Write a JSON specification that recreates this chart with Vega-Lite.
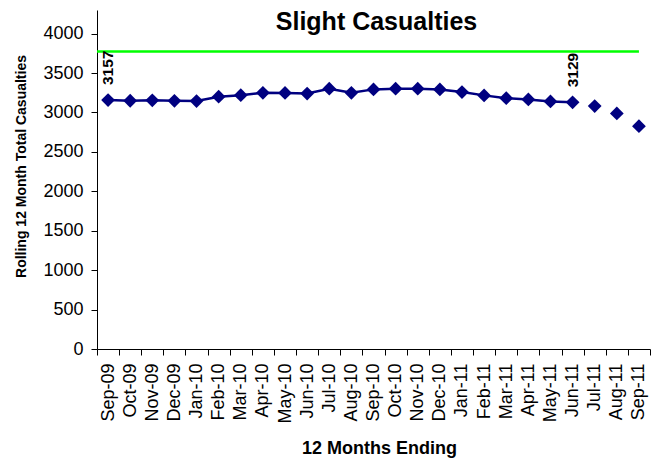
{
  "$schema": "https://vega.github.io/schema/vega-lite/v6.json",
  "width": 553,
  "height": 339,
  "autosize": {"type": "none"},
  "padding": {"left": 97, "top": 10, "right": 1, "bottom": 110},
  "background": "white",
  "config": {"view": {"stroke": null}, "font": "Liberation Sans"},
  "title": {"text": "Slight Casualties", "font": "Liberation Sans", "fontSize": 25, "fontWeight": "bold", "color": "black", "offset": -25, "dx": 3},
  "datasets": {
    "series": [
      {"month": "Sep-09", "value": 3157, "kind": "actual", "label": true},
      {"month": "Oct-09", "value": 3149, "kind": "actual", "label": false},
      {"month": "Nov-09", "value": 3155, "kind": "actual", "label": false},
      {"month": "Dec-09", "value": 3148, "kind": "actual", "label": false},
      {"month": "Jan-10", "value": 3145, "kind": "actual", "label": false},
      {"month": "Feb-10", "value": 3200, "kind": "actual", "label": false},
      {"month": "Mar-10", "value": 3220, "kind": "actual", "label": false},
      {"month": "Apr-10", "value": 3250, "kind": "actual", "label": false},
      {"month": "May-10", "value": 3248, "kind": "actual", "label": false},
      {"month": "Jun-10", "value": 3240, "kind": "actual", "label": false},
      {"month": "Jul-10", "value": 3302, "kind": "actual", "label": false},
      {"month": "Aug-10", "value": 3250, "kind": "actual", "label": false},
      {"month": "Sep-10", "value": 3293, "kind": "actual", "label": false},
      {"month": "Oct-10", "value": 3302, "kind": "actual", "label": false},
      {"month": "Nov-10", "value": 3302, "kind": "actual", "label": false},
      {"month": "Dec-10", "value": 3293, "kind": "actual", "label": false},
      {"month": "Jan-11", "value": 3259, "kind": "actual", "label": false},
      {"month": "Feb-11", "value": 3217, "kind": "actual", "label": false},
      {"month": "Mar-11", "value": 3182, "kind": "actual", "label": false},
      {"month": "Apr-11", "value": 3166, "kind": "actual", "label": false},
      {"month": "May-11", "value": 3140, "kind": "actual", "label": false},
      {"month": "Jun-11", "value": 3129, "kind": "actual", "label": true},
      {"month": "Jul-11", "value": 3081, "kind": "later", "label": false},
      {"month": "Aug-11", "value": 2988, "kind": "later", "label": false},
      {"month": "Sep-11", "value": 2826, "kind": "later", "label": false}
    ],
    "target": [
      {"start": "Sep-09", "end": "Sep-11", "target": 3775}
    ]
  },
  "layer": [
    {
      "data": {"name": "target"},
      "mark": {"type": "rule", "color": "#00FF00", "strokeWidth": 2.5},
      "encoding": {
        "x": {"field": "start", "type": "ordinal", "bandPosition": 0},
        "x2": {"field": "end"},
        "y": {"field": "target", "type": "quantitative"}
      }
    },
    {
      "data": {"name": "series"},
      "transform": [{"filter": "datum.kind == 'actual'"}],
      "mark": {"type": "line", "color": "#000080", "strokeWidth": 2.5},
      "encoding": {
        "x": {"field": "month", "type": "ordinal"},
        "y": {"field": "value", "type": "quantitative"}
      }
    },
    {
      "data": {"name": "series"},
      "mark": {"type": "point", "shape": "diamond", "filled": true, "size": 190, "color": "#000080", "opacity": 1},
      "encoding": {
        "x": {"field": "month", "type": "ordinal"},
        "y": {"field": "value", "type": "quantitative"}
      }
    },
    {
      "data": {"name": "series"},
      "transform": [{"filter": "datum.label"}],
      "mark": {"type": "text", "angle": 270, "align": "left", "baseline": "middle", "dx": 15, "fontSize": 15.5, "fontWeight": "bold", "color": "black"},
      "encoding": {
        "x": {"field": "month", "type": "ordinal"},
        "y": {"field": "value", "type": "quantitative"},
        "text": {"field": "value", "type": "quantitative", "format": "d"}
      }
    }
  ],
  "resolve": {"scale": {"x": "shared", "y": "shared"}},
  "encoding": {
    "x": {
      "scale": {"domain": ["Sep-09","Oct-09","Nov-09","Dec-09","Jan-10","Feb-10","Mar-10","Apr-10","May-10","Jun-10","Jul-10","Aug-10","Sep-10","Oct-10","Nov-10","Dec-10","Jan-11","Feb-11","Mar-11","Apr-11","May-11","Jun-11","Jul-11","Aug-11","Sep-11"], "paddingInner": 0, "paddingOuter": 0},
      "axis": {"title": "12 Months Ending", "titleFontSize": 18, "titleFontWeight": "bold", "titleColor": "black", "titlePadding": 16, "titleX": 282, "labelAngle": -90, "labelFontSize": 18, "labelColor": "black", "labelPadding": 8, "tickSize": 6, "tickColor": "black", "domainColor": "black", "tickBand": "extent", "grid": false}
    },
    "y": {
      "scale": {"domain": [0, 4300], "nice": false},
      "axis": {"title": "Rolling 12 Month Total Casualties", "titleFontSize": 14, "titleFontWeight": "bold", "titleColor": "black", "titlePadding": 14, "titleY": 156, "format": "d", "values": [0,500,1000,1500,2000,2500,3000,3500,4000], "labelFontSize": 18, "labelColor": "black", "labelPadding": 8, "tickSize": 6, "tickColor": "black", "domainColor": "black", "grid": false}
    }
  }
}
